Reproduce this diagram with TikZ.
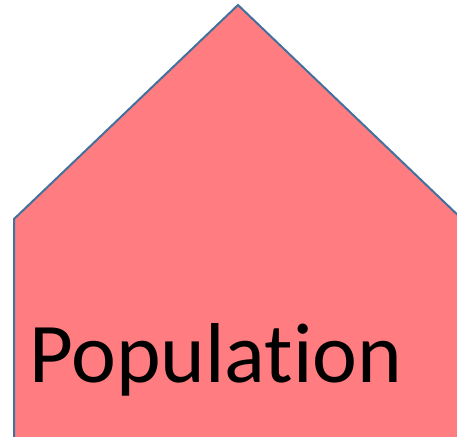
\documentclass[tikz,border=0pt]{standalone}
\usepackage{fontspec}
\setmainfont{Carlito}[Ligatures={NoCommon,NoContextual}]
\definecolor{housepink}{HTML}{FF7C80}
\definecolor{houseline}{HTML}{41719C}

\begin{document}
\begin{tikzpicture}[x=1pt, y=-1pt,
    housestyle/.style={fill=housepink, draw=houseline, line width=2pt, line join=miter},
    labelstyle/.style={anchor=base west, inner sep=0pt, font=\fontsize{85}{90}\selectfont}]
    % page frame
    \useasboundingbox (0,0) rectangle (457,436);
    \clip (0,0) rectangle (457,436);
    % the house shape
    \draw[housestyle] (14,450) -- (14,219) -- (238,5) -- (463,220) -- (463,450) -- cycle;
    % label
    \node[labelstyle] (poplabel) at (29,382) {Population};
\end{tikzpicture}
\end{document}
